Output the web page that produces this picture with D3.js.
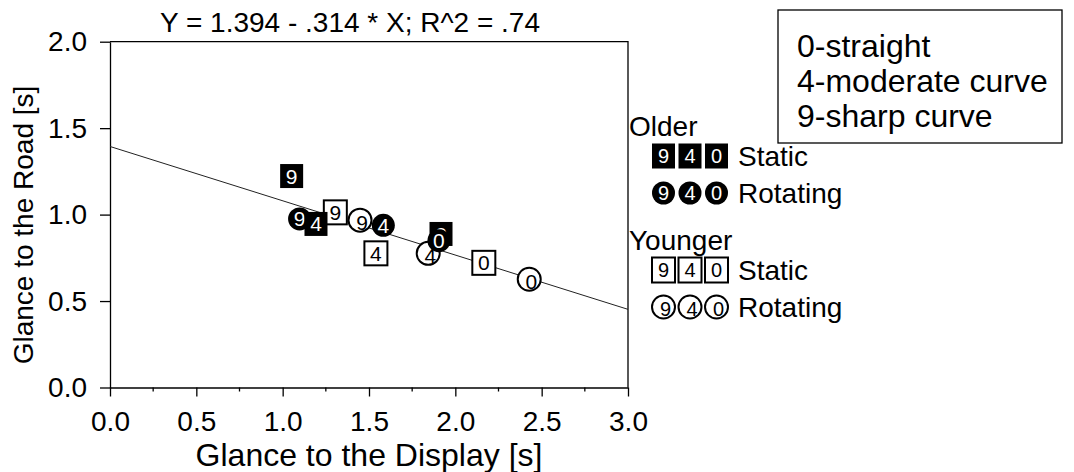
<!DOCTYPE html>
<html>
  <head>
    <meta charset="utf-8">
    <script src="https://d3js.org/d3.v7.min.js"></script>
    <style>
      body { margin: 0; background: #fff; }
      text { font-family: "Liberation Sans", Arial, Helvetica, sans-serif; fill: #000; }
    </style>
  </head>
  <body>
    <script type="text/javascript">
      // curve codes (order of drawing) and the four groups of means
      var curveLabels = ["9", "4", "0"];
      var olderStaticX = [1.052, 1.193, 1.917],
          olderStaticY = [1.223, 0.946, 0.888];
      var olderRotatingX = [1.098, 1.583, 1.905],
          olderRotatingY = [0.975, 0.938, 0.849];
      var youngerStaticX = [1.305, 1.540, 2.165],
          youngerStaticY = [1.013, 0.776, 0.721];
      var youngerRotatingX = [1.448, 1.843, 2.428],
          youngerRotatingY = [0.968, 0.776, 0.626];

      // regression from the title
      var intercept = 1.394, slope = -0.314;
      var titleText = "Y = 1.394 - .314 * X; R^2 = .74";

      var xTicks = [0, 0.5, 1, 1.5, 2, 2.5, 3];
      var xMinorTicks = [0.25, 0.75, 1.25, 1.75, 2.25, 2.75];
      var yTicks = [0, 0.5, 1, 1.5, 2];
      var curveNotes = ["0-straight", "4-moderate curve", "9-sharp curve"];
      var groupNames = ["Older", "Younger"];
      var displayNames = ["Static", "Rotating"];

      "use strict";
      var width = 1074, height = 472;
      var svg = d3.select("body").append("svg")
          .attr("width", width)
          .attr("height", height);

      var x = d3.scaleLinear().domain([0, 3]).range([110, 628]);
      var y = d3.scaleLinear().domain([0, 2]).range([387.5, 41.7]);

      // axes
      var yAxis = svg.append("g")
          .attr("transform", "translate(110,0)")
          .call(d3.axisLeft(y).tickValues(yTicks).tickSize(10).tickSizeOuter(0)
            .tickPadding(13).tickFormat(d3.format(".1f")));
      var xAxis = svg.append("g")
          .attr("transform", "translate(0,387.5)")
          .call(d3.axisBottom(x).tickValues(xTicks).tickSize(9).tickSizeOuter(0)
            .tickPadding(15).tickFormat(d3.format(".1f")));
      [xAxis, yAxis].forEach(function (a) {
        a.selectAll("text").style("font-size", "28px").attr("fill", "#000");
        a.selectAll("line,path").attr("stroke", "#000").attr("stroke-width", 1.3);
      });
      svg.append("g").selectAll("line")
          .data(xMinorTicks).enter().append("line")
          .attr("x1", function (d) { return x(d); })
          .attr("x2", function (d) { return x(d); })
          .attr("y1", y(0)).attr("y2", y(0) + 4)
          .attr("stroke", "#000").attr("stroke-width", 1.3);

      // top and right frame
      svg.append("path")
          .attr("d", "M" + x(0) + "," + y(2) + "H" + x(3) + "V" + y(0))
          .attr("fill", "none").attr("stroke", "#000").attr("stroke-width", 1.3);

      // titles
      svg.append("text").attr("x", 350).attr("y", 32)
          .attr("text-anchor", "middle").style("font-size", "28px").text(titleText);
      svg.append("text").attr("x", 369).attr("y", 466)
          .attr("text-anchor", "middle").style("font-size", "32px")
          .text("Glance to the Display [s]");
      svg.append("text")
          .attr("transform", "translate(33,225) rotate(-90)")
          .attr("text-anchor", "middle").style("font-size", "28px")
          .text("Glance to the Road [s]");

      // regression line
      svg.append("line")
          .attr("x1", x(0)).attr("y1", y(intercept))
          .attr("x2", x(3)).attr("y2", y(intercept + slope * 3))
          .attr("stroke", "#222").attr("stroke-width", 1);

      // points, ordered by curve then group
      var points = [];
      curveLabels.forEach(function (c, i) {
        points.push({c: c, x: olderStaticX[i], y: olderStaticY[i], older: true, shape: "square"});
        points.push({c: c, x: olderRotatingX[i], y: olderRotatingY[i], older: true, shape: "circle"});
        points.push({c: c, x: youngerStaticX[i], y: youngerStaticY[i], older: false, shape: "square"});
        points.push({c: c, x: youngerRotatingX[i], y: youngerRotatingY[i], older: false, shape: "circle"});
      });

      function marker(g, shape, older, label, size, fontSize) {
        if (shape === "square") {
          g.append("rect")
              .attr("x", -size.w / 2).attr("y", -size.h / 2)
              .attr("width", size.w).attr("height", size.h)
              .attr("fill", older ? "#000" : "#fff")
              .attr("stroke", "#000").attr("stroke-width", older ? 0 : 2);
        } else {
          g.append("circle").attr("r", size.r)
              .attr("fill", older ? "#000" : "#fff")
              .attr("stroke", "#000").attr("stroke-width", older ? 0 : 2);
        }
        var off = (shape === "circle" && !older) ? 2 : 0;
        g.append("text")
            .attr("x", off).attr("y", off)
            .attr("dy", "0.36em")
            .attr("text-anchor", "middle")
            .style("font-size", fontSize + "px")
            .style("fill", older ? "#fff" : "#000")
            .text(label);
      }

      points.forEach(function (p) {
        var g = svg.append("g")
            .attr("transform", "translate(" + x(p.x) + "," + y(p.y) + ")");
        marker(g, p.shape, p.older, p.c, {w: 23, h: 24, r: 11.5}, 21);
      });

      // curve key box
      svg.append("rect")
          .attr("x", 778).attr("y", 10).attr("width", 284).attr("height", 133)
          .attr("fill", "#fff").attr("stroke", "#000").attr("stroke-width", 1.3);
      svg.selectAll("text.note").data(curveNotes).enter().append("text")
          .attr("class", "note")
          .attr("x", 797)
          .attr("y", function (d, i) { return 57 + i * 35; })
          .style("font-size", "32px")
          .text(function (d) { return d; });

      // group legend
      var legendTop = [136, 250];
      groupNames.forEach(function (gname, gi) {
        var base = legendTop[gi];
        svg.append("text").attr("x", 629).attr("y", base)
            .style("font-size", "28px").text(gname);
        displayNames.forEach(function (dname, di) {
          var cy = base + (di === 0 ? 20 : 57);
          curveLabels.forEach(function (c, ci) {
            var g = svg.append("g")
                .attr("transform", "translate(" + (663.5 + ci * 26.5) + "," + cy + ")");
            marker(g, di === 0 ? "square" : "circle", gi === 0, c,
                   {w: 23, h: 25, r: 11.5}, 20);
          });
          svg.append("text").attr("x", 738).attr("y", cy + 10)
              .style("font-size", "28px").text(dname);
        });
      });
    </script>
  </body>
</html>
